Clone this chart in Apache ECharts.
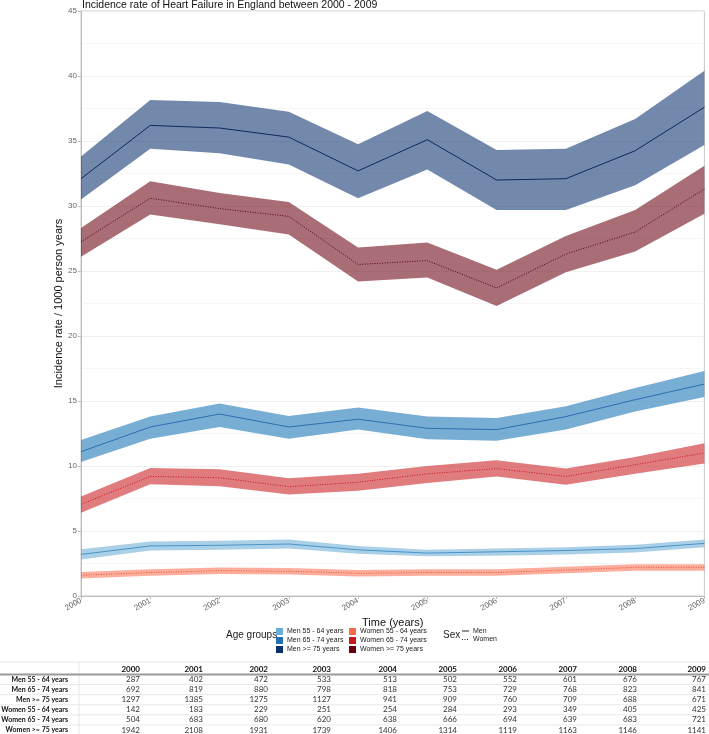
<!DOCTYPE html>
<html>
<head>
<meta charset="utf-8">
<script src="https://cdn.jsdelivr.net/npm/echarts@6/dist/echarts.min.js"></script>
<style>
html,body{margin:0;padding:0;background:#fff;}
#main{width:709px;height:734px;}
</style>
</head>
<body>
<div id="main"></div>
<script>
// ---------- data ----------
const years = ['2000','2001','2002','2003','2004','2005','2006','2007','2008','2009'];
const yTicks = [0,5,10,15,20,25,30,35,40,45];

const menOldMid   = [32.1, 36.2, 36.0, 35.3, 32.7, 35.1, 32.0, 32.1, 34.25, 37.6];
const menOldLo    = [30.5, 34.4, 34.05, 33.2, 30.6, 32.8, 29.7, 29.7, 31.6, 34.7];
const menOldHi    = [33.8, 38.15, 38.0, 37.25, 34.75, 37.3, 34.3, 34.4, 36.7, 40.4];

const womenOldMid = [27.25, 30.6, 29.8, 29.2, 25.5, 25.8, 23.7, 26.3, 28.0, 31.3];
const womenOldLo  = [26.1, 29.35, 28.6, 27.8, 24.2, 24.5, 22.3, 24.9, 26.5, 29.4];
const womenOldHi  = [28.3, 31.9, 31.0, 30.3, 26.8, 27.2, 25.1, 27.7, 29.7, 33.1];

const menMidMid   = [11.1, 13.0, 14.0, 13.0, 13.6, 12.9, 12.8, 13.8, 15.1, 16.3];
const menMidLo    = [10.3, 12.1, 13.0, 12.1, 12.8, 12.05, 11.95, 12.8, 14.2, 15.3];
const menMidHi    = [12.0, 13.8, 14.8, 13.85, 14.5, 13.8, 13.7, 14.6, 16.0, 17.3];

const womenMidMid = [7.05, 9.2, 9.1, 8.4, 8.75, 9.4, 9.8, 9.2, 10.1, 11.0];
const womenMidLo  = [6.4, 8.6, 8.45, 7.8, 8.1, 8.7, 9.2, 8.55, 9.4, 10.2];
const womenMidHi  = [7.65, 9.85, 9.75, 9.05, 9.4, 10.0, 10.45, 9.8, 10.7, 11.75];

const menYoungMid = [3.2, 3.85, 3.9, 4.0, 3.55, 3.3, 3.4, 3.5, 3.65, 4.05];
const menYoungLo  = [2.8, 3.5, 3.55, 3.65, 3.25, 3.05, 3.1, 3.2, 3.35, 3.75];
const menYoungHi  = [3.6, 4.2, 4.25, 4.35, 3.85, 3.55, 3.65, 3.75, 3.95, 4.35];

const womenYoungMid = [1.6, 1.8, 1.95, 1.9, 1.75, 1.8, 1.8, 2.0, 2.2, 2.2];
const womenYoungLo  = [1.35, 1.55, 1.7, 1.65, 1.5, 1.55, 1.55, 1.75, 1.95, 1.95];
const womenYoungHi  = [1.85, 2.05, 2.2, 2.15, 2.0, 2.05, 2.05, 2.25, 2.45, 2.45];

const groupNames = ['Men 55 - 64 years','Men 65 - 74 years','Men >= 75 years',
                    'Women 55 - 64 years','Women 65 - 74 years','Women >= 75 years'];

const countsMenYoung   = [287, 402, 472, 533, 513, 502, 552, 601, 676, 767];
const countsMenMid     = [692, 819, 880, 798, 818, 753, 729, 768, 823, 841];
const countsMenOld     = [1297, 1385, 1275, 1127, 941, 909, 760, 709, 688, 671];
const countsWomenYoung = [142, 183, 229, 251, 254, 284, 293, 349, 405, 425];
const countsWomenMid   = [504, 683, 680, 620, 638, 666, 694, 639, 683, 721];
const countsWomenOld   = [1942, 2108, 1931, 1739, 1406, 1314, 1119, 1163, 1146, 1141];

// ---------- styling ----------
const groups = [
  {name: groupNames[0], mid: menYoungMid, lo: menYoungLo, hi: menYoungHi, color:'#6baed6', band:'rgba(107,174,214,0.58)', line:'#4a93c8', dash:'solid'},
  {name: groupNames[1], mid: menMidMid, lo: menMidLo, hi: menMidHi, color:'#2171b5', band:'rgba(49,130,189,0.65)', line:'#2a6fb0', dash:'solid'},
  {name: groupNames[2], mid: menOldMid, lo: menOldLo, hi: menOldHi, color:'#08306b', band:'rgba(8,48,107,0.57)', line:'#0b2a62', dash:'solid'},
  {name: groupNames[3], mid: womenYoungMid, lo: womenYoungLo, hi: womenYoungHi, color:'#fb6a4a', band:'rgba(251,106,74,0.55)', line:'#e8553c', dash:[1,1.5]},
  {name: groupNames[4], mid: womenMidMid, lo: womenMidLo, hi: womenMidHi, color:'#cb181d', band:'rgba(203,24,29,0.57)', line:'#c8141c', dash:[1,1.5]},
  {name: groupNames[5], mid: womenOldMid, lo: womenOldLo, hi: womenOldHi, color:'#67000d', band:'rgba(103,0,13,0.57)', line:'#5a0010', dash:[1,1.5]}
];
const tableCounts = [countsMenYoung, countsMenMid, countsMenOld, countsWomenYoung, countsWomenMid, countsWomenOld];

const series = [];
groups.forEach((g, i) => {
  series.push({
    type:'line', stack:'band'+i, data:g.lo, symbol:'none', silent:true,
    lineStyle:{opacity:0}, z:1
  });
  series.push({
    type:'line', stack:'band'+i, data:g.hi.map((v,k)=>+(v-g.lo[k]).toFixed(3)), symbol:'none', silent:true,
    lineStyle:{opacity:0}, areaStyle:{color:g.band, opacity:1}, z:1
  });
});
groups.forEach((g) => {
  series.push({
    type:'line', name:g.name, data:g.mid, symbol:'none', silent:true,
    lineStyle:{color:g.line, width:1, type:g.dash}, z:3
  });
});

// ---------- legend & table graphics ----------
const graphic = [];
const fontLegend = 'Liberation Sans, Arial, sans-serif';
graphic.push({type:'text', left:226, top:630, style:{text:'Age groups', font:'10px '+fontLegend, fill:'#222'}});
groups.forEach((g, i) => {
  const col = Math.floor(i/3), row = i%3;
  const sx = col===0 ? 276 : 349;
  const sy = 628 + row*9;
  graphic.push({type:'rect', shape:{x:sx, y:sy, width:7, height:7}, style:{fill:g.color}});
  graphic.push({type:'text', x:sx+11, y:sy+3.5, style:{text:g.name, font:'7px '+fontLegend, fill:'#222', textVerticalAlign:'middle'}});
});
graphic.push({type:'text', left:443, top:630, style:{text:'Sex', font:'10px '+fontLegend, fill:'#222'}});
graphic.push({type:'line', shape:{x1:462, y1:631, x2:469, y2:631}, style:{stroke:'#222', lineWidth:1}});
graphic.push({type:'line', shape:{x1:462, y1:639.5, x2:469, y2:639.5}, style:{stroke:'#222', lineWidth:1, lineDash:[1,1.5]}});
graphic.push({type:'text', x:473, y:631, style:{text:'Men', font:'7px '+fontLegend, fill:'#222', textVerticalAlign:'middle'}});
graphic.push({type:'text', x:473, y:639, style:{text:'Women', font:'7px '+fontLegend, fill:'#222', textVerticalAlign:'middle'}});

// table
const colRight = [140, 203, 268, 331, 397, 457, 517, 577, 637, 706];
const tFont = 'Lato, "Open Sans", sans-serif';
const headerY = 669, rowH = 10.1, firstRowY = 679.5;
graphic.push({type:'line', shape:{x1:0, y1:662, x2:709, y2:662}, style:{stroke:'#e6e6e6', lineWidth:1}});
graphic.push({type:'line', shape:{x1:79, y1:662, x2:79, y2:734}, style:{stroke:'#e6e6e6', lineWidth:1}});
years.forEach((y, j) => {
  graphic.push({type:'text', x:colRight[j], y:headerY, style:{text:y, font:'bold 8px '+tFont, fill:'#111', textAlign:'right', textVerticalAlign:'middle'}});
});
graphic.push({type:'line', shape:{x1:0, y1:674.5, x2:709, y2:674.5}, style:{stroke:'#9a9a9a', lineWidth:2}});
groupNames.forEach((n, i) => {
  const cy = firstRowY + i*rowH;
  graphic.push({type:'text', x:68, y:cy, style:{text:n, font:'bold 7px '+tFont, fill:'#111', textAlign:'right', textVerticalAlign:'middle'}});
  tableCounts[i].forEach((v, j) => {
    graphic.push({type:'text', x:colRight[j], y:cy, style:{text:String(v), font:'8px '+tFont, fill:'#333', textAlign:'right', textVerticalAlign:'middle'}});
  });
  if (i < groupNames.length-1) {
    graphic.push({type:'line', shape:{x1:0, y1:cy+5.05, x2:709, y2:cy+5.05}, style:{stroke:'#e8e8e8', lineWidth:1}});
  }
});

const chart = echarts.init(document.getElementById('main'), null, {renderer:'canvas'});
chart.setOption({
  animation:false,
  backgroundColor:'#fff',
  title:{
    text:'Incidence rate of Heart Failure in England between 2000 - 2009',
    left:77, top:-5,
    textStyle:{fontSize:10.5, fontWeight:'normal', color:'#111', fontFamily:'Liberation Sans, Arial, sans-serif'}
  },
  grid:{left:81, right:2, top:11, bottom:138, show:true, borderColor:'#c8c8c8', borderWidth:1, backgroundColor:'transparent'},
  xAxis:{
    type:'category', data:years, boundaryGap:false,
    name:'Time (years)', nameLocation:'middle', nameGap:21, nameMoveOverlap:false,
    nameTextStyle:{fontSize:11, color:'#111', fontFamily:'Liberation Sans, Arial, sans-serif'},
    axisLine:{lineStyle:{color:'#bdbdbd'}},
    axisTick:{show:true, length:3, lineStyle:{color:'#bdbdbd'}},
    axisLabel:{rotate:30, fontSize:8, color:'#666', margin:4, fontFamily:'Liberation Sans, Arial, sans-serif'},
    splitLine:{show:false}
  },
  yAxis:{
    type:'value', min:0, max:45, interval:5,
    name:'Incidence rate / 1000 person years', nameLocation:'middle', nameGap:17, nameMoveOverlap:false,
    nameTextStyle:{fontSize:11, color:'#111', fontFamily:'Liberation Sans, Arial, sans-serif'},
    axisLine:{show:true, lineStyle:{color:'#bdbdbd'}},
    axisTick:{show:true, length:3, lineStyle:{color:'#bdbdbd'}},
    axisLabel:{fontSize:8, color:'#666', margin:4, fontFamily:'Liberation Sans, Arial, sans-serif',
      formatter:(v)=> yTicks.includes(v) ? String(v) : ''},
    splitLine:{show:true, lineStyle:{color:'#f0f0f0', width:1}},
    minorTick:{show:false, splitNumber:2},
    minorSplitLine:{show:true, lineStyle:{color:'#f6f6f6', width:1}}
  },
  series:series,
  graphic:graphic
});
</script>
</body>
</html>
